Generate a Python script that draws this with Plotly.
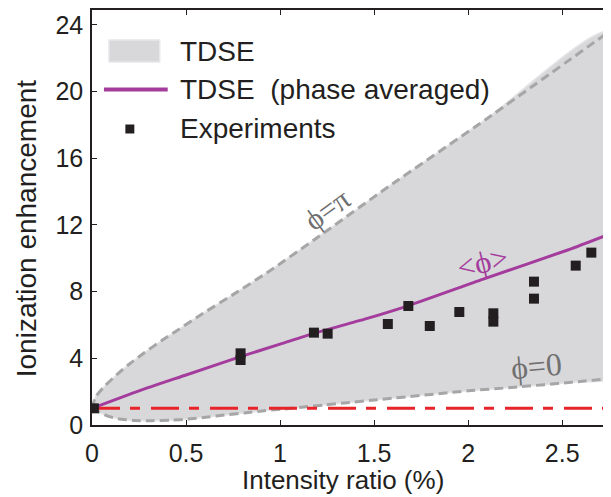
import plotly.graph_objects as go

# ---------------- data ----------------
upper_x = [0.0, 0.02, 0.069, 0.13, 0.192, 0.28, 0.369, 0.463, 0.563, 0.775, 0.952,
           1.18, 1.577, 2.09, 2.75]
upper_y = [1.0, 1.7, 2.35, 3.0, 3.6, 4.35, 5.05, 5.75, 6.5, 8.0, 9.3,
           11.1, 14.3, 18.3, 23.6]

lower_x = [0.0, 0.034, 0.08, 0.139, 0.228, 0.316, 0.422, 0.51, 0.616, 0.704, 0.81, 0.916,
           1.022, 1.128, 1.234, 1.358, 1.5, 2.0, 2.23, 2.585, 2.75]
lower_y = [1.0, 0.8, 0.55, 0.38, 0.27, 0.26, 0.29, 0.36, 0.48, 0.6, 0.72, 0.86,
           0.96, 1.08, 1.2, 1.34, 1.5, 2.05, 2.25, 2.6, 2.78]

avg_x = [0.0, 0.25, 0.5, 0.79, 1.0, 1.18, 1.45, 1.68, 2.08, 2.53, 2.75]
avg_y = [1.0, 2.05, 3.0, 4.1, 4.85, 5.5, 6.35, 7.15, 8.75, 10.5, 11.45]

exp_x = [0.01, 0.79, 0.79, 1.18, 1.253, 1.573, 1.682, 1.796, 1.953, 2.134, 2.134,
         2.35, 2.35, 2.572, 2.655]
exp_y = [1.0, 4.3, 3.9, 5.54, 5.48, 6.06, 7.14, 5.94, 6.78, 6.7, 6.2,
         8.6, 7.58, 9.56, 10.34]

baseline_x = [0.0, 2.75]
baseline_y = [1.0, 1.0]

x_ticks = [0, 0.5, 1, 1.5, 2, 2.5]
x_tick_labels = ["0", "0.5", "1", "1.5", "2", "2.5"]
y_ticks = [0, 4, 8, 12, 16, 20, 24]
y_tick_labels = ["0", "4", "8", "12", "16", "20", "24"]

legend_labels = ["TDSE", "TDSE  (phase averaged)", "Experiments"]
x_title = "Intensity ratio (%)"
y_title = "Ionization enhancement"

# ---------------- styles ----------------
FILL = "#d8d7da"
GRAYDASH = "#a6a6a6"
PURPLE = "#a33c9c"
RED = "#e8242b"
DARK = "#231f20"
FONT = "Liberation Sans, Arial, sans-serif"
SERIF = "Liberation Serif, DejaVu Serif, serif"

OFF = 8  # page body margin
W, H = 611 - OFF, 497 - OFF
ML, MR, MT, MB = 92 - OFF, 0, 10 - OFF, 72
PW, PH = W - ML - MR, H - MT - MB


def px(x):
    # reference pixel x -> paper
    return (x - OFF - ML) / PW


def py(y):
    # reference pixel y -> paper
    return (H - MB - (y - OFF)) / PH


fig = go.Figure()

# shaded TDSE band
fig.add_trace(go.Scatter(
    x=upper_x + lower_x[::-1], y=upper_y + lower_y[::-1],
    fill="toself", fillcolor=FILL, mode="lines",
    line=dict(color="#e4e3e6", width=1.5, shape="spline", smoothing=0.6),
    hoverinfo="skip", showlegend=False))

# dashed bounds
for xs, ys in ((upper_x, upper_y), (lower_x, lower_y)):
    fig.add_trace(go.Scatter(
        x=xs, y=ys, mode="lines",
        line=dict(color=GRAYDASH, width=3, dash="9px,5px", shape="spline", smoothing=0.6),
        showlegend=False))

# baseline
fig.add_trace(go.Scatter(
    x=baseline_x, y=baseline_y, mode="lines",
    line=dict(color=RED, width=3, dash="28px,10px,10px,11px"),
    showlegend=False))

# phase averaged
fig.add_trace(go.Scatter(
    x=avg_x, y=avg_y, mode="lines",
    line=dict(color=PURPLE, width=3, shape="spline", smoothing=0.6),
    showlegend=False))

# experiments
fig.add_trace(go.Scatter(
    x=exp_x, y=exp_y, mode="markers",
    marker=dict(symbol="square", size=10, color=DARK, line=dict(width=0)),
    showlegend=False))

axis_common = dict(
    showgrid=False, zeroline=False, showline=True, linecolor=DARK, linewidth=1.5,
    mirror="ticks", ticks="inside", ticklen=5, tickwidth=1, tickcolor=DARK,
    tickfont=dict(family=FONT, size=25, color=DARK),
)

fig.update_xaxes(range=[0, PW / 188.8], tickvals=x_ticks, ticktext=x_tick_labels,
                 ticklabelstandoff=5, **axis_common)
fig.update_yaxes(range=[0, PH / 16.67], tickvals=y_ticks, ticktext=y_tick_labels,
                 ticklabelstandoff=2, **axis_common)

shapes = [
    # legend swatches
    dict(type="rect", xref="paper", yref="paper", x0=px(109), x1=px(160), y0=py(62), y1=py(40),
         fillcolor=FILL, line=dict(color="#e8e7ea", width=1.5), layer="above"),
    dict(type="line", xref="paper", yref="paper", x0=px(104), x1=px(168), y0=py(89.5), y1=py(89.5),
         line=dict(color=PURPLE, width=4), layer="above"),
    dict(type="rect", xref="paper", yref="paper", x0=px(125.5), x1=px(134.5), y0=py(133.5), y1=py(124.5),
         fillcolor=DARK, line=dict(width=0), layer="above"),
]

annotations = []
for label, ypix in zip(legend_labels, [51, 90, 128]):
    annotations.append(dict(xref="paper", yref="paper", x=px(178), y=py(ypix), text=label,
                            showarrow=False, xanchor="left", yanchor="middle",
                            font=dict(family=FONT, size=28, color=DARK)))

annotations += [
    dict(x=1.247, y=12.93, text="ϕ=π", showarrow=False, textangle=-36,
         font=dict(family=SERIF, size=30, color="#707070")),
    dict(x=2.362, y=3.55, text="ϕ=0", showarrow=False, textangle=-5,
         font=dict(family=SERIF, size=32, color="#707070")),
    dict(x=2.076, y=9.75, text="&lt;ϕ&gt;", showarrow=False, textangle=-14,
         font=dict(family=SERIF, size=31, color=PURPLE)),
    dict(xref="paper", yref="paper", x=px(344), y=py(496), text=x_title, showarrow=False,
         xanchor="center", yanchor="bottom", borderpad=0,
         font=dict(family=FONT, size=26, color=DARK)),
    dict(xref="paper", yref="paper", x=px(26), y=py(228), text=y_title, showarrow=False,
         textangle=-90, xanchor="center", yanchor="middle",
         font=dict(family=FONT, size=28, color=DARK)),
]

fig.update_layout(
    width=W, height=H,
    margin=dict(l=ML, r=MR, t=MT, b=MB),
    paper_bgcolor="white", plot_bgcolor="white",
    showlegend=False,
    shapes=shapes, annotations=annotations,
)

fig.write_html("out.html")
